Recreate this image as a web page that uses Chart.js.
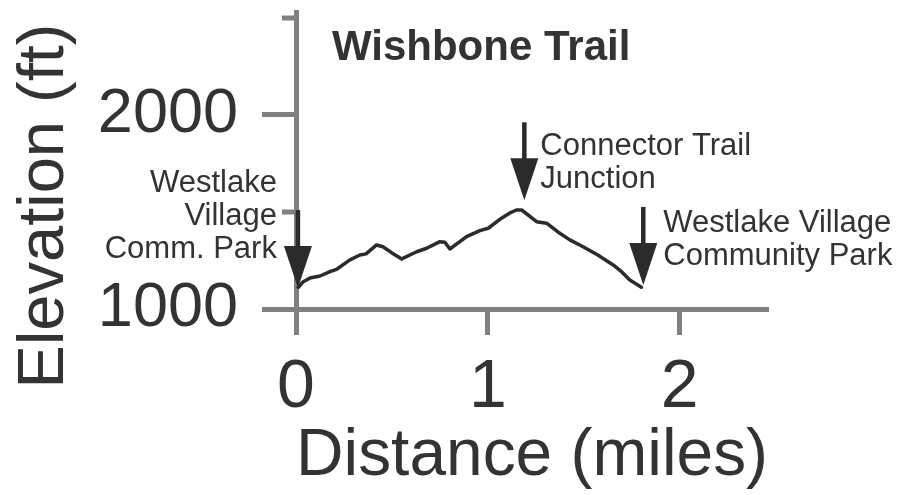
<!DOCTYPE html>
<html>
<head>
<meta charset="utf-8">
<script src="https://cdn.jsdelivr.net/npm/chart.js@4.4.1/dist/chart.umd.min.js"></script>
<style>
    html, body { margin: 0; padding: 0; background: #fff; }
    #wrap { width: 915px; height: 495px; position: relative; }
</style>
</head>
<body>
<div id="wrap"><canvas id="chart"></canvas></div>
<script>
// trail profile
const distance = [0.012, 0.036, 0.073, 0.125, 0.177, 0.214, 0.281, 0.333, 0.365, 0.42, 0.453, 0.5, 0.551,
    0.629, 0.681, 0.75, 0.776, 0.802, 0.889, 0.958, 1.002, 1.071, 1.115, 1.149, 1.176, 1.254, 1.306,
    1.365, 1.427, 1.496, 1.573, 1.653, 1.698, 1.74, 1.8];
const elevation = [1112, 1139, 1160, 1170, 1192, 1206, 1253, 1278, 1284, 1330, 1321, 1289, 1258,
    1295, 1313, 1347, 1344, 1309, 1373, 1404, 1416, 1468, 1495, 1510, 1510, 1450, 1442,
    1397, 1356, 1321, 1278, 1227, 1191, 1149, 1112];

const xTicks = [0, 1, 2];
const yTicks = [1000, 2000];
const yMinorTicks = [1500, 2500];

// points the arrows mark
const markerNames = [
    ['Westlake', 'Village', 'Comm. Park'],
    ['Connector Trail', 'Junction'],
    ['Westlake Village', 'Community Park'],
];
const markerDistance = [0.01, 1.19, 1.81];
const markerElevation = [1108, 1560, 1124];

const AXIS = '#808080';
const INK = '#2b2b2b';
const TEXT = '#333333';
const FONT = '"Liberation Sans", Arial, sans-serif';

// where each label block sits relative to its arrow tip
const labelPlacement = [
    { dx: -21, dy: -96, align: 'right' },
    { dx: 16, dy: -45, align: 'left' },
    { dx: 20, dy: -53, align: 'left' },
];

const decorations = {
    id: 'decorations',
    afterDraw(chart) {
        const { ctx } = chart;
        const x = chart.scales.x;
        const y = chart.scales.y;
        const left = chart.chartArea.left;

        ctx.save();

        // short unlabeled ticks
        ctx.strokeStyle = AXIS;
        ctx.lineWidth = 5;
        yMinorTicks.forEach((v) => {
            const py = Math.round(y.getPixelForValue(v));
            ctx.beginPath();
            ctx.moveTo(left - 14, py);
            ctx.lineTo(left, py);
            ctx.stroke();
        });

        // arrows and their labels
        markerDistance.forEach((d, i) => {
            const tx = x.getPixelForValue(d);
            const ty = y.getPixelForValue(markerElevation[i]);

            ctx.strokeStyle = INK;
            ctx.fillStyle = INK;
            ctx.lineWidth = 4.5;
            ctx.beginPath();
            ctx.moveTo(tx, ty - 78);
            ctx.lineTo(tx, ty - 36);
            ctx.stroke();

            ctx.beginPath();
            ctx.moveTo(tx - 14, ty - 42);
            ctx.lineTo(tx + 14, ty - 42);
            ctx.lineTo(tx, ty);
            ctx.closePath();
            ctx.fill();

            const p = labelPlacement[i];
            ctx.fillStyle = TEXT;
            ctx.font = '31px ' + FONT;
            ctx.textAlign = p.align;
            ctx.textBaseline = 'alphabetic';
            markerNames[i].forEach((line, j) => {
                ctx.fillText(line, tx + p.dx, ty + p.dy + j * 33);
            });
        });

        // chart title
        ctx.fillStyle = TEXT;
        ctx.font = 'bold 42px ' + FONT;
        ctx.textAlign = 'left';
        ctx.fillText('Wishbone Trail', 332, 60);

        // vertical axis title
        ctx.translate(63, 206);
        ctx.rotate(-Math.PI / 2);
        ctx.font = '65px ' + FONT;
        ctx.textAlign = 'center';
        ctx.fillText('Elevation (ft)', 0, 0);

        ctx.restore();
    },
};

new Chart(document.getElementById('chart'), {
    type: 'line',
    data: {
        datasets: [{
            data: distance.map((d, i) => ({ x: d, y: elevation[i] })),
            borderColor: INK,
            borderWidth: 3.5,
            borderJoinStyle: 'round',
            borderCapStyle: 'round',
            pointRadius: 0,
            tension: 0,
            fill: false,
        }],
    },
    options: {
        responsive: true,
        maintainAspectRatio: false,
        animation: false,
        events: [],
        layout: { padding: { top: 12, right: 147, left: 0, bottom: 0 } },
        plugins: {
            legend: { display: false },
            tooltip: { enabled: false },
        },
        scales: {
            x: {
                type: 'linear',
                min: 0,
                max: 2.46,
                afterBuildTicks: (s) => { s.ticks = xTicks.map((v) => ({ value: v })); },
                afterFit: (s) => {
                    s.height = 186;
                    s.paddingLeft = 0;
                    s.paddingRight = 0;
                },
                grid: {
                    drawOnChartArea: false,
                    drawTicks: true,
                    tickLength: 26,
                    tickWidth: 5,
                    tickColor: AXIS,
                },
                border: { display: true, color: AXIS, width: 5 },
                ticks: {
                    color: TEXT,
                    padding: 19,
                    maxRotation: 0,
                    font: { family: FONT, size: 68, lineHeight: 1 },
                    callback: (v) => String(v),
                },
                title: {
                    display: true,
                    text: 'Distance (miles)',
                    color: TEXT,
                    padding: { top: 0, bottom: 5 },
                    font: { family: FONT, size: 67, lineHeight: 1 },
                },
            },
            y: {
                min: 1000,
                max: 2530,
                afterBuildTicks: (s) => { s.ticks = yTicks.map((v) => ({ value: v })); },
                afterFit: (s) => {
                    s.width = 296;
                    s.paddingTop = 0;
                    s.paddingBottom = 0;
                },
                grid: {
                    drawOnChartArea: false,
                    drawTicks: true,
                    tickLength: 34,
                    tickWidth: 5,
                    tickColor: AXIS,
                },
                border: { display: true, color: AXIS, width: 5 },
                ticks: {
                    color: TEXT,
                    padding: 24,
                    font: { family: FONT, size: 63, lineHeight: 1 },
                    callback: (v) => String(v),
                },
            },
        },
    },
    plugins: [decorations],
});
</script>
</body>
</html>
